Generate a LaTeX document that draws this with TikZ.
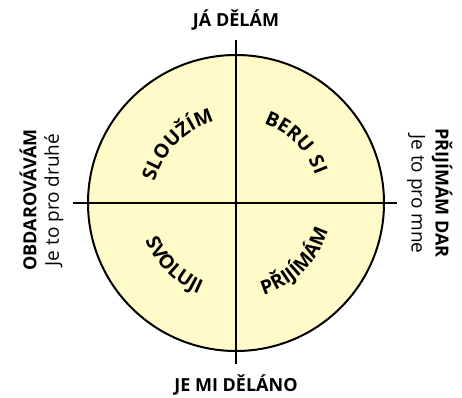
\documentclass[tikz,border=0pt]{standalone}
\usepackage{fontspec}
\setmainfont{Open Sans}
\usetikzlibrary{decorations.text}
\definecolor{paleyellow}{RGB}{255,250,200}
\tikzset{
	axislabel/.style={font=\bfseries\fontsize{18}{21}\selectfont, inner sep=0pt},
	sublabel/.style={font=\fontsize{19}{22}\selectfont, inner sep=0pt},
	arcword/.style={decorate, decoration={text along path, text align=center,
		text={|\bfseries\fontsize{19.5}{23}\selectfont\addfontfeatures{LetterSpace=8}|#1}}}
}
\begin{document}
\begin{tikzpicture}[x=1pt,y=1pt]
	\useasboundingbox (0,0) rectangle (462,397);
	
	%Circle
	\coordinate (c) at (236,194);
	\filldraw[fill=paleyellow, line width=2pt] (c) circle (148);
	
	%Cross
	\coordinate (top) at (236,357);
	\coordinate (bot) at (236,33);
	\coordinate (lft) at (73,194);
	\coordinate (rgt) at (397,194);
	\draw[line width=1.8pt] (top) -- (bot);
	\draw[line width=1.8pt] (lft) -- (rgt);
	
	%Quadrant words
	\path[arcword=SLOUŽÍM] ([shift={(180:84)}]c) arc (180:90:84);
	\path[arcword=BERU SI] ([shift={(90:84)}]c) arc (90:0:84);
	\path[arcword=SVOLUJI] ([shift={(180:98)}]c) arc (180:270:98);
	\path[arcword=PŘIJÍMÁM] ([shift={(270:96)}]c) arc (270:360:96);
	
	%Axis labels
	\node[axislabel] (do) at (236,377) {JÁ DĚLÁM};
	\node[axislabel] (done) at (236,12) {JE MI DĚLÁNO};
	\node[axislabel, rotate=90] (give) at (28,197) {OBDAROVÁVÁM};
	\node[sublabel, rotate=90] (givesub) at (54,197) {Je to pro druhé};
	\node[axislabel, rotate=-90] (take) at (442,204) {PŘIJÍMÁM DAR};
	\node[sublabel, rotate=-90] (takesub) at (416,203) {Je to pro mne};
\end{tikzpicture}
\end{document}
